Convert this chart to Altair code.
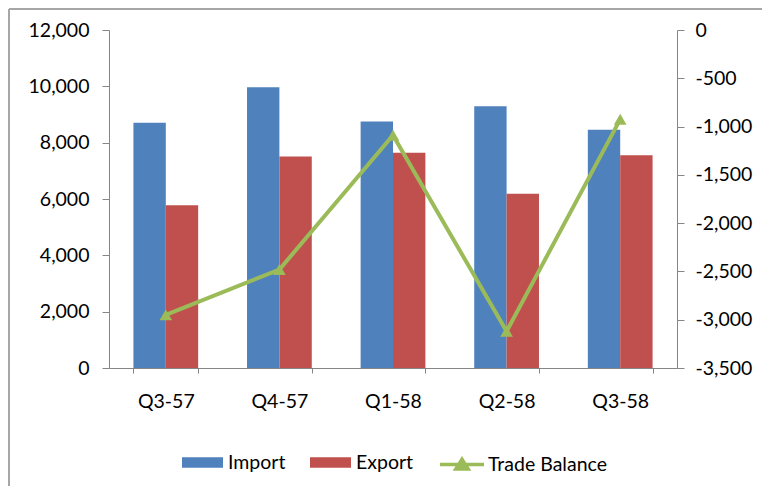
import altair as alt
import pandas as pd

# ---- data ----
quarters = ["Q3-57", "Q4-57", "Q1-58", "Q2-58", "Q3-58"]
imports = [8710, 9970, 8750, 9290, 8460]
exports = [5780, 7510, 7640, 6190, 7550]
balance = [-2950, -2480, -1090, -3120, -925]
bar_series = ["Import", "Export"]
line_series = ["Trade Balance"]
left_ticks = [0, 2000, 4000, 6000, 8000, 10000, 12000]
right_ticks = [-3500, -3000, -2500, -2000, -1500, -1000, -500, 0]

bars_df = pd.DataFrame({
    "quarter": quarters * 2,
    "series": [bar_series[0]] * len(quarters) + [bar_series[1]] * len(quarters),
    "value": imports + exports,
})
line_df = pd.DataFrame({
    "quarter": quarters,
    "series": line_series * len(quarters),
    "value": balance,
})

FONT = "Lato"
FS = 19.5
AXIS_COLOR = "#868686"
MINUS_FIX = "replace(format(datum.value, ','), '\u2212', '-')"

x_enc = alt.X(
    "quarter:N",
    sort=quarters,
    scale=alt.Scale(paddingInner=0.43, paddingOuter=0.215),
    axis=alt.Axis(
        title=None, labelAngle=0, tickBand="extent", tickSize=5,
        labelPadding=19, labelFont=FONT, labelFontSize=FS, labelColor="#000",
        domainColor=AXIS_COLOR, tickColor=AXIS_COLOR, grid=False,
    ),
)

bars = alt.Chart(bars_df).mark_bar().encode(
    x=x_enc,
    xOffset=alt.XOffset("series:N", sort=bar_series, scale=alt.Scale(paddingInner=0, paddingOuter=0)),
    y=alt.Y(
        "value:Q",
        scale=alt.Scale(domain=[0, 12000], nice=False),
        axis=alt.Axis(
            orient="left", title=None, values=left_ticks, labelExpr=MINUS_FIX,
            tickSize=7, labelPadding=13, labelFont=FONT, labelFontSize=FS,
            labelColor="#000", domainColor=AXIS_COLOR, tickColor=AXIS_COLOR, grid=False,
        ),
    ),
    color=alt.Color(
        "series:N",
        scale=alt.Scale(domain=bar_series, range=["#4F81BD", "#C0504D"]),
        legend=alt.Legend(
            title=None, orient="none", direction="horizontal",
            legendX=73, legendY=412, padding=0,
            symbolType="M-1,-0.26L1,-0.26L1,0.26L-1,0.26Z", symbolSize=1681,
            symbolStrokeWidth=0, labelOffset=5, columnPadding=24,
            labelFont=FONT, labelFontSize=FS, labelColor="#000",
        ),
    ),
)

line = alt.Chart(line_df).mark_line(
    strokeWidth=4,
    point=alt.OverlayMarkDef(shape="triangle-up", size=160, filled=True, opacity=1),
).encode(
    x=x_enc,
    y=alt.Y(
        "value:Q",
        scale=alt.Scale(domain=[-3500, 0], nice=False, zero=False),
        axis=alt.Axis(
            orient="right", title=None, values=right_ticks, labelExpr=MINUS_FIX,
            tickSize=7, labelPadding=11, labelFont=FONT, labelFontSize=FS,
            labelColor="#000", domainColor=AXIS_COLOR, tickColor=AXIS_COLOR, grid=False,
        ),
    ),
    color=alt.Color(
        "series:N",
        scale=alt.Scale(domain=line_series, range=["#9BBB59"]),
        legend=alt.Legend(
            title=None, orient="none", direction="horizontal",
            legendX=329, legendY=410.5, padding=0,
            symbolType="M-1,0L1,0M-0.28,0.2L0,-0.24L0.28,0.2Z", symbolSize=1936,
            symbolStrokeWidth=3.5, symbolStrokeColor="#9BBB59", symbolFillColor="#9BBB59",
            labelOffset=2, labelFont=FONT, labelFontSize=FS, labelColor="#000",
        ),
    ),
)

# outer chart frame: only its left and top edges are visible in the reference
frame_src = alt.Data(values=[{"frame": 1}])
frame_left = alt.Chart(frame_src).mark_rule(color="#A6A6A6", strokeWidth=2).encode(
    x=alt.value(-100), y=alt.value(-21), y2=alt.value(520)
)
frame_top = alt.Chart(frame_src).mark_rule(color="#A6A6A6", strokeWidth=2).encode(
    x=alt.value(-100), x2=alt.value(760), y=alt.value(-21)
)

chart = alt.layer(bars, line, frame_left, frame_top).resolve_scale(
    y="independent", color="independent"
).resolve_legend(color="independent").properties(
    width=568, height=338,
    autosize=alt.AutoSizeParams(type="none"),
    padding={"left": 101, "top": 22, "right": 85, "bottom": 118},
    background="white",
).configure_view(strokeWidth=0)

chart.save("out.html", embed_options={"renderer": "svg", "actions": False})
